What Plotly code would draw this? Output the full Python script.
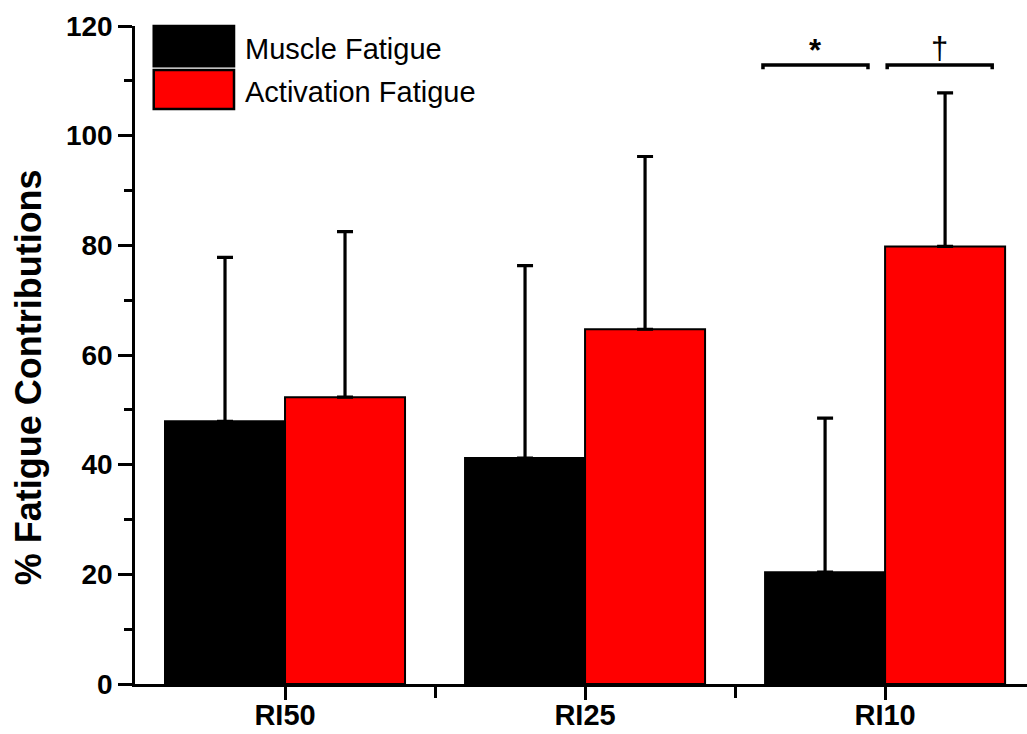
import plotly.graph_objects as go

# Rest-interval conditions and mean fatigue contributions (%)
categories = ["RI50", "RI25", "RI10"]
muscle_fatigue = [47.9, 41.2, 20.4]
muscle_sd = [29.9, 35.1, 28.1]
activation_fatigue = [52.3, 64.7, 79.8]
activation_sd = [30.2, 31.5, 28.0]

y_ticks = [0, 20, 40, 60, 80, 100, 120]

# Significance markers over the RI10 group: (x0, x1, y, label, label shift px)
sig_brackets = [(1.593, 1.943, 112.9, "<b>*</b>", -5),
                (2.007, 2.357, 112.9, "\u2020", -3)]

FONT = "Arial, Liberation Sans, sans-serif"
x_pos = list(range(len(categories)))

fig = go.Figure()
fig.add_trace(go.Bar(
    x=x_pos, y=muscle_fatigue, name="Muscle Fatigue",
    marker=dict(color="black", line=dict(color="black", width=2)),
    error_y=dict(type="data", array=muscle_sd, arrayminus=[0] * 3, symmetric=False,
                 color="black", thickness=3.2, width=8),
))
fig.add_trace(go.Bar(
    x=x_pos, y=activation_fatigue, name="Activation Fatigue",
    marker=dict(color="#ff0000", line=dict(color="black", width=2)),
    error_y=dict(type="data", array=activation_sd, arrayminus=[0] * 3, symmetric=False,
                 color="black", thickness=3.2, width=8),
))

shapes = []
annotations = []
for x0, x1, y, label, shift in sig_brackets:
    shapes.append(dict(type="path", xref="x", yref="y",
                       path=f"M {x0},{y - 0.8} L {x0},{y} L {x1},{y} L {x1},{y - 0.8}",
                       line=dict(color="black", width=3.5)))
    annotations.append(dict(x=(x0 + x1) / 2, y=y, xref="x", yref="y", text=label,
                            showarrow=False, yanchor="bottom", yshift=shift,
                            font=dict(family=FONT, size=31, color="black")))

# Legend drawn as large swatches with labels
legend_items = [("Muscle Fatigue", "black", 0.939, 1.0, 0.965),
                ("Activation Fatigue", "#ff0000", 0.874, 0.933, 0.900)]
for name, col, y0, y1, ty in legend_items:
    shapes.append(dict(type="rect", xref="paper", yref="paper",
                       x0=0.021, x1=0.111, y0=y0, y1=y1,
                       fillcolor=col, line=dict(color="black", width=2.5)))
    annotations.append(dict(x=0.121, y=ty, xref="paper", yref="paper",
                            text=name, showarrow=False, xanchor="left", yanchor="middle",
                            font=dict(family=FONT, size=29, color="black")))

# Y-axis title
annotations.append(dict(x=-0.12, y=0.466, xref="paper", yref="paper",
                        text="<b>% Fatigue Contributions</b>", textangle=-90,
                        showarrow=False, xanchor="center", yanchor="middle",
                        font=dict(family=FONT, size=36, color="black")))

fig.update_layout(
    width=1027, height=734,
    margin=dict(l=135, r=0, t=26, b=50),
    paper_bgcolor="white", plot_bgcolor="white",
    barmode="group", bargap=0.2, bargroupgap=0,
    showlegend=False,
    shapes=shapes, annotations=annotations,
    xaxis=dict(range=[-0.5, 2.473], tickvals=x_pos, ticktext=categories,
               automargin=False,
               showline=True, linecolor="black", linewidth=2.5,
               ticks="outside", ticklen=13, tickwidth=2.5, tickcolor="black",
               ticklabelstandoff=-10,
               minor=dict(tickvals=[0.5, 1.5], ticks="outside", ticklen=11,
                          tickwidth=2.5, tickcolor="black"),
               showgrid=False, zeroline=False,
               tickfont=dict(family=FONT, size=29, color="black", weight="bold")),
    yaxis=dict(range=[0, 120], tickvals=y_ticks, automargin=False,
               showline=True, linecolor="black", linewidth=2.5,
               ticks="outside", ticklen=14, tickwidth=2.5, tickcolor="black",
               minor=dict(dtick=10, tick0=0, ticks="outside", ticklen=8,
                          tickwidth=2.5, tickcolor="black"),
               showgrid=False, zeroline=False,
               tickfont=dict(family=FONT, size=28, color="black", weight="bold")),
)

fig.write_html("out.html")
